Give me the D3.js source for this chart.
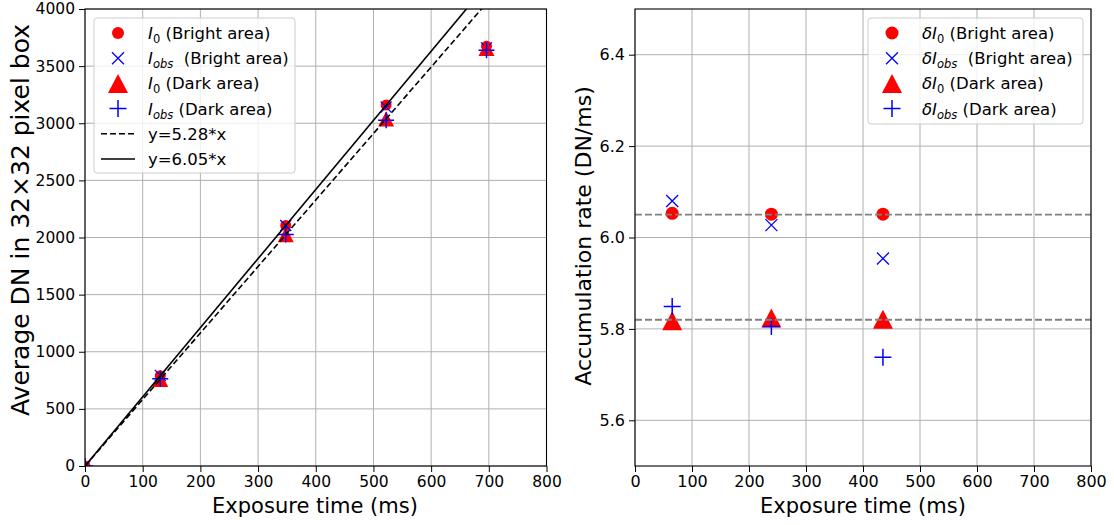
<!DOCTYPE html>
<html><head><meta charset="utf-8">
<script src="https://cdn.jsdelivr.net/npm/d3@7"></script>
<style>body{margin:0;background:#fff}text{font-family:"DejaVu Sans",sans-serif}</style>
</head><body><svg id="c" width="1114" height="525"></svg>
<script>
// ---- data ----
const exposure   = [0, 130.5, 348, 522, 696];
const i0Bright   = [0, 790, 2106, 3159, 3675];
const iobsBright = [0, 793, 2105, 3141, 3660];
const i0Dark     = [0, 759, 2026, 3039, 3655];
const iobsDark   = [0, 763, 2027, 3026, 3640];
const fitSlopes  = [5.82, 6.05];
const fitLabels  = ["y=5.28*x", "y=6.05*x"];

const rateTime       = [65.25, 239.25, 435];
const dI0Bright      = [6.053, 6.051, 6.051];
const dIobsBright    = [6.080, 6.027, 5.954];
const dI0Dark        = [5.818, 5.824, 5.821];
const dIobsDark      = [5.849, 5.805, 5.738];
const rateRefLines   = [6.05, 5.82];

const xTicks = [0,100,200,300,400,500,600,700,800];
const yTicksL = [0,500,1000,1500,2000,2500,3000,3500,4000];
const yTicksR = [5.6,5.8,6.0,6.2,6.4];

const svg = d3.select("#c");
const RED="#ff0000", BLUE="#0000ff";

function panel(x0,x1,y0,y1,xdom,ydom,yt,yfmt,clipId,fs){
  const x=d3.scaleLinear().domain(xdom).range([x0,x1]);
  const y=d3.scaleLinear().domain(ydom).range([y1,y0]);
  const g=svg.append("g");
  g.append("defs").append("clipPath").attr("id",clipId).append("rect")
    .attr("x",x0).attr("y",y0).attr("width",x1-x0).attr("height",y1-y0);
  g.selectAll(null).data(xTicks).join("line").attr("x1",d=>x(d)).attr("x2",d=>x(d))
    .attr("y1",y0).attr("y2",y1).attr("stroke","#b0b0b0").attr("stroke-width",1);
  g.selectAll(null).data(yt).join("line").attr("y1",d=>y(d)).attr("y2",d=>y(d))
    .attr("x1",x0).attr("x2",x1).attr("stroke","#b0b0b0").attr("stroke-width",1);
  const ax=g.append("g").attr("transform",`translate(0,${y1})`)
    .call(d3.axisBottom(x).tickValues(xTicks).tickSize(6).tickPadding(4).tickFormat(d3.format("d")));
  const ay=g.append("g").attr("transform",`translate(${x0},0)`)
    .call(d3.axisLeft(y).tickValues(yt).tickSize(6).tickPadding(4).tickFormat(yfmt));
  [ax,ay].forEach(a=>{a.select(".domain").remove();
    a.selectAll("text").attr("font-size",fs).attr("fill","#000").style("font-family","DejaVu Sans");
    a.selectAll("line").attr("stroke","#000").attr("stroke-width",1);});
  const plot=g.append("g").attr("clip-path",`url(#${clipId})`);
  return {x,y,g,plot};
}

function marker(sel,type,cx,cy,sz){
  if(type==="o") sel.append("circle").attr("cx",cx).attr("cy",cy).attr("r",sz).attr("fill",RED);
  if(type==="^") sel.append("path").attr("d",`M${cx},${cy-sz*0.95}L${cx+sz},${cy+sz*0.95}L${cx-sz},${cy+sz*0.95}Z`).attr("fill",RED);
  if(type==="x") sel.append("path").attr("d",`M${cx-sz},${cy-sz}L${cx+sz},${cy+sz}M${cx-sz},${cy+sz}L${cx+sz},${cy-sz}`).attr("stroke",BLUE).attr("stroke-width",1.3);
  if(type==="+") sel.append("path").attr("d",`M${cx-sz},${cy}L${cx+sz},${cy}M${cx},${cy-sz}L${cx},${cy+sz}`).attr("stroke",BLUE).attr("stroke-width",1.5);
}
function drawMarkers(p,xs,ys,type,sz){
  xs.forEach((d,i)=>marker(p.plot,type,p.x(d),p.y(ys[i]),sz));
}
function frame(p,x0,x1,y0,y1){
  p.g.append("rect").attr("x",x0).attr("y",y0).attr("width",x1-x0).attr("height",y1-y0)
    .attr("fill","none").attr("stroke","#000").attr("stroke-width",1.1);
}

// ---- left panel ----
const L=panel(85,546.5,9,466,[0,800],[0,4000],yTicksL,d3.format("d"),"clipL",15.5);
drawMarkers(L,exposure,i0Bright,"o",5.5);
drawMarkers(L,exposure,iobsBright,"x",5.5);
drawMarkers(L,exposure,i0Dark,"^",8);
drawMarkers(L,exposure,iobsDark,"+",8);
fitSlopes.forEach((s,i)=>{
  L.plot.append("line").attr("x1",L.x(0)).attr("y1",L.y(0)).attr("x2",L.x(800)).attr("y2",L.y(800*s))
    .attr("stroke","#000").attr("stroke-width",1.6).attr("stroke-dasharray",i===0?"6,3":null);
});
frame(L,85,546.5,9,466);
svg.append("text").attr("x",315).attr("y",513).attr("text-anchor","middle").attr("font-size",21).text("Exposure time (ms)");
svg.append("text").attr("transform","translate(29,220) rotate(-90)").attr("text-anchor","middle").attr("font-size",25).text("Average DN in 32×32 pixel box");

// ---- right panel ----
const R=panel(635,1091,9,466,[0,800],[5.5,6.5],yTicksR,d3.format(".1f"),"clipR",16);
drawMarkers(R,rateTime,dI0Bright,"o",6.5);
drawMarkers(R,rateTime,dIobsBright,"x",6);
drawMarkers(R,rateTime,dI0Dark,"^",10);
drawMarkers(R,rateTime,dIobsDark,"+",8.5);
rateRefLines.forEach(v=>{
  R.plot.append("line").attr("x1",R.x(0)).attr("x2",R.x(800)).attr("y1",R.y(v)).attr("y2",R.y(v))
    .attr("stroke","#808080").attr("stroke-width",1.8).attr("stroke-dasharray","7,3");
});
frame(R,635,1091,9,466);
svg.append("text").attr("x",863).attr("y",513).attr("text-anchor","middle").attr("font-size",21).text("Exposure time (ms)");
svg.append("text").attr("transform","translate(591,236) rotate(-90)").attr("text-anchor","middle").attr("font-size",22).text("Accumulation rate (DN/ms)");

// ---- legends ----
function legendBox(x,y,w,h){
  svg.append("rect").attr("x",x).attr("y",y).attr("width",w).attr("height",h).attr("rx",3)
    .attr("fill","#fff").attr("fill-opacity",0.8).attr("stroke","#cccccc").attr("stroke-width",1);
}
function legLine(type,cx,cy){
  svg.append("line").attr("x1",cx-17).attr("x2",cx+17).attr("y1",cy).attr("y2",cy)
    .attr("stroke","#000").attr("stroke-width",1.6).attr("stroke-dasharray",type==="--"?"6,3":null);
}
function legText(x,y,prefix,sub,rest){
  const t=svg.append("text").attr("x",x).attr("y",y+6).attr("font-size",16.5).style("white-space","pre");
  if(prefix!==null){
    t.append("tspan").attr("font-style","italic").text(prefix);
    t.append("tspan").attr("font-size",11.5).attr("dy",4).attr("font-style",sub==="0"?"normal":"italic").text(sub);
    t.append("tspan").attr("dy",-4).text(rest);
  } else t.text(rest);
}
const legSz={"o":6,"^":10,"x":6,"+":8.5};
legendBox(94,18,201,155);
const legL=[["o","I","0"," (Bright area)"],["x","I","obs","  (Bright area)"],["^","I","0"," (Dark area)"],["+","I","obs"," (Dark area)"]];
legL.forEach((d,i)=>{const cy=33+i*25.2; marker(svg,d[0],118,cy,legSz[d[0]]); legText(148,cy,d[1],d[2],d[3]);});
fitLabels.forEach((lab,i)=>{const cy=33+(4+i)*25.2; legLine(i===0?"--":"-",118,cy); legText(148,cy,null,null,lab);});

legendBox(868,18,215,106);
const legR=[["o","δI","0"," (Bright area)"],["x","δI","obs","  (Bright area)"],["^","δI","0"," (Dark area)"],["+","δI","obs"," (Dark area)"]];
legR.forEach((d,i)=>{const cy=33+i*25.2; marker(svg,d[0],892,cy,d[0]==="o"?6.5:legSz[d[0]]); legText(922,cy,d[1],d[2],d[3]);});
</script></body></html>
